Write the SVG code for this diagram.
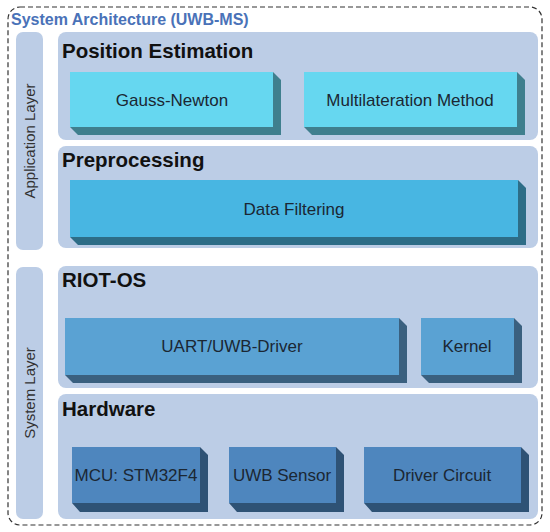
<svg xmlns="http://www.w3.org/2000/svg" width="550" height="532" viewBox="0 0 550 532">
<style>
.bg{fill:#ffffff}
.outer{fill:none;stroke:#333;stroke-width:1.2;stroke-dasharray:5,3}
.side{fill:#bccde6}
.panel{fill:#bccde6}
.title{font-family:"Liberation Sans",Arial,sans-serif;font-weight:bold;font-size:16px;fill:#4a72b8}
.ptitle{font-family:"Liberation Sans",Arial,sans-serif;font-weight:bold;font-size:20.5px;fill:#111}
.stitle{font-family:"Liberation Sans",Arial,sans-serif;font-size:15px;fill:#333}
.lbl{font-family:"Liberation Sans",Arial,sans-serif;font-size:17px;fill:#1b2733;text-anchor:middle}
.c1f{fill:#66d7f0}.c1d{fill:#3f7f8e}
.c2f{fill:#48b6e2}.c2d{fill:#2d6d87}
.c3f{fill:#5aa2d3}.c3d{fill:#3a607f}
.c4f{fill:#4e86be}.c4d{fill:#2e5275}
</style>
<rect class="bg" x="0" y="0" width="550" height="532"/>
<rect class="outer" x="8" y="7" width="534" height="518" rx="12"/>
<text class="title" x="11" y="25">System Architecture (UWB-MS)</text>

<g id="application-layer">
<rect class="side" x="16" y="32" width="27" height="218" rx="7"/>
<text class="stitle" text-anchor="middle" transform="translate(35,141) rotate(-90)">Application Layer</text>
</g>
<g id="system-layer">
<rect class="side" x="16" y="267" width="27" height="252" rx="7"/>
<text class="stitle" text-anchor="middle" transform="translate(35,393) rotate(-90)">System Layer</text>
</g>

<g id="position-estimation">
<rect class="panel" x="58" y="32" width="480" height="108" rx="8"/>
<text class="ptitle" x="62" y="58">Position Estimation</text>
</g>
<g id="gauss-newton">
<polygon class="c1d" points="70,127 273,127 273,72 281,80 281,135 78,135"/>
<rect class="c1f" x="70" y="72" width="203" height="55"/>
<text class="lbl" x="172" y="106">Gauss-Newton</text>
</g>
<g id="multilateration">
<polygon class="c1d" points="304,127 517,127 517,72 525,80 525,135 312,135"/>
<rect class="c1f" x="304" y="72" width="213" height="55"/>
<text class="lbl" x="410" y="106">Multilateration Method</text>
</g>

<g id="preprocessing">
<rect class="panel" x="58" y="146" width="480" height="102" rx="8"/>
<text class="ptitle" x="62" y="167">Preprocessing</text>
</g>
<g id="data-filtering">
<polygon class="c2d" points="70,237 518,237 518,180 526,188 526,245 78,245"/>
<rect class="c2f" x="70" y="180" width="448" height="57"/>
<text class="lbl" x="294" y="215">Data Filtering</text>
</g>

<g id="riot-os">
<rect class="panel" x="58" y="266" width="480" height="122" rx="8"/>
<text class="ptitle" x="62" y="287">RIOT-OS</text>
</g>
<g id="uart-uwb-driver">
<polygon class="c3d" points="65,375 399,375 399,318 407,326 407,383 73,383"/>
<rect class="c3f" x="65" y="318" width="334" height="57"/>
<text class="lbl" x="232" y="352">UART/UWB-Driver</text>
</g>
<g id="kernel">
<polygon class="c3d" points="421,375 514,375 514,318 522,326 522,383 429,383"/>
<rect class="c3f" x="421" y="318" width="93" height="57"/>
<text class="lbl" x="467" y="352">Kernel</text>
</g>

<g id="hardware">
<rect class="panel" x="58" y="394" width="480" height="125" rx="8"/>
<text class="ptitle" x="62" y="416">Hardware</text>
</g>
<g id="mcu">
<polygon class="c4d" points="72,503 200,503 200,447 208,455 208,512 80,512"/>
<rect class="c4f" x="72" y="447" width="128" height="56"/>
<text class="lbl" x="136" y="481">MCU: STM32F4</text>
</g>
<g id="uwb-sensor">
<polygon class="c4d" points="229,503 336,503 336,447 344,455 344,512 237,512"/>
<rect class="c4f" x="229" y="447" width="107" height="56"/>
<text class="lbl" x="282" y="481">UWB Sensor</text>
</g>
<g id="driver-circuit">
<polygon class="c4d" points="364,503 521,503 521,447 529,455 529,512 372,512"/>
<rect class="c4f" x="364" y="447" width="157" height="56"/>
<text class="lbl" x="442" y="481">Driver Circuit</text>
</g>

<g id="connectors"></g>
</svg>
